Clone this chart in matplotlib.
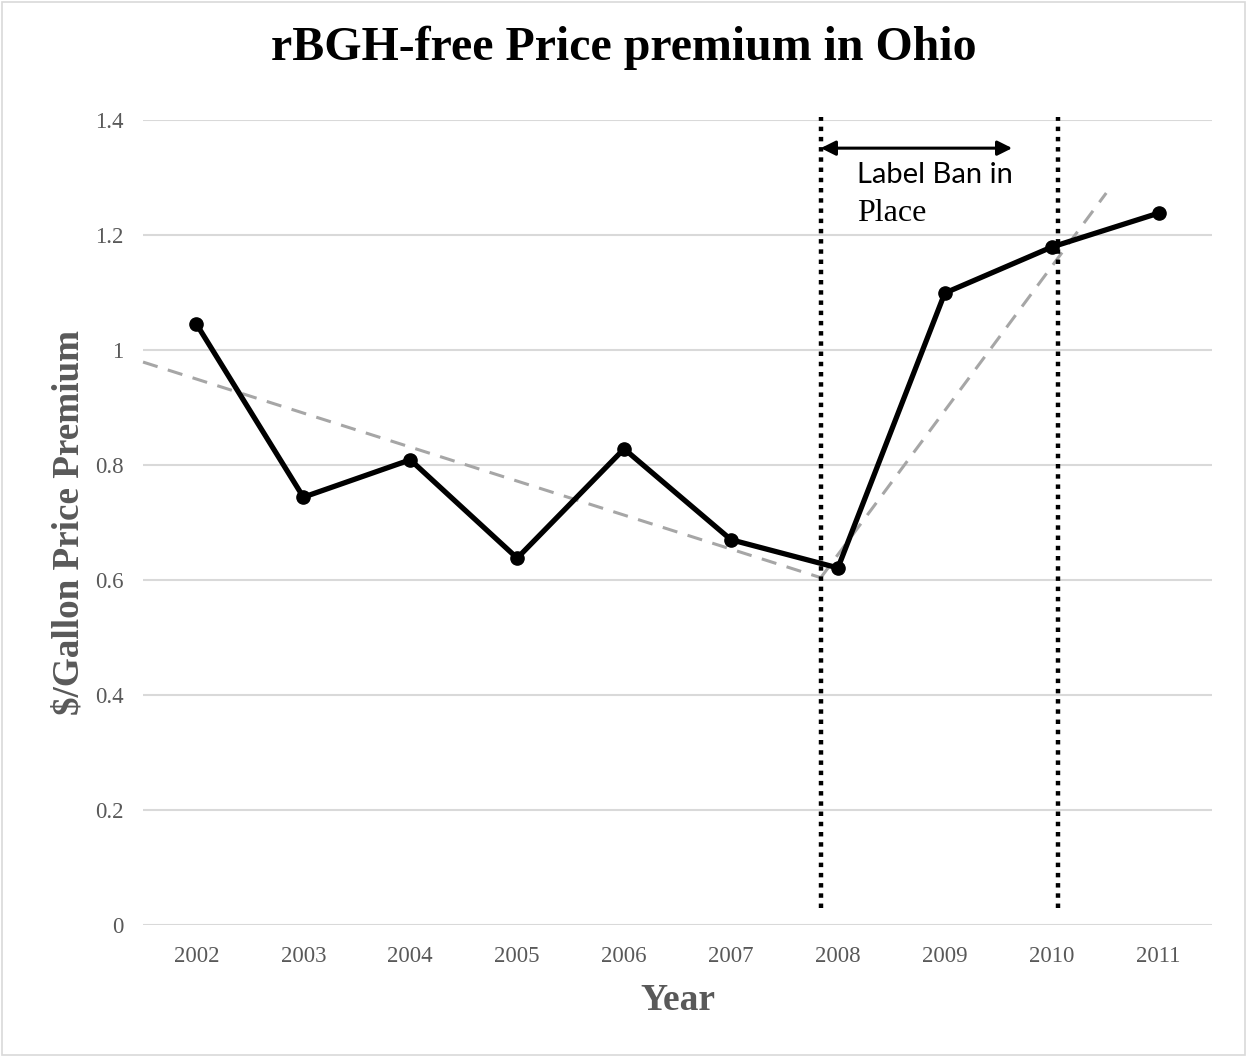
import matplotlib
matplotlib.use("Agg")
import matplotlib.pyplot as plt
from matplotlib.patches import Rectangle

years = ["2002", "2003", "2004", "2005", "2006", "2007", "2008", "2009", "2010", "2011"]
premium = [1.045, 0.744, 0.809, 0.638, 0.828, 0.670, 0.621, 1.099, 1.179, 1.238]

# trend lines (x in category index units, y in $/gallon)
trend1_x = [-0.5, 5.84]
trend1_y = [0.979, 0.604]
trend2_x = [5.84, 8.51]
trend2_y = [0.604, 1.273]

# label-ban period markers
ban_x = [5.84, 8.06]
ban_y = [0.03, 1.405]
arrow_x = [5.84, 7.63]
arrow_y = 1.351

yticks = [0, 0.2, 0.4, 0.6, 0.8, 1.0, 1.2, 1.4]
ytick_labels = ["0", "0.2", "0.4", "0.6", "0.8", "1", "1.2", "1.4"]

serif = ["Liberation Serif", "DejaVu Serif"]
gray = "#595959"

fig = plt.figure(figsize=(12.47, 10.57), dpi=100)
ax = fig.add_axes([0.1147, 0.1249, 0.8573, 0.7616])

x = list(range(len(years)))
ax.set_xlim(-0.5, 9.5)
ax.set_ylim(0, 1.4)

for yt in yticks:
    ax.axhline(yt, color="#d9d9d9", lw=1.5, zorder=1)

ax.plot(trend1_x, trend1_y, color="#a6a6a6", lw=2.2, ls=(0, (5, 3.5)), zorder=2, clip_on=False)
ax.plot(trend2_x, trend2_y, color="#a6a6a6", lw=2.2, ls=(0, (5, 3.5)), zorder=2, clip_on=False)

ax.plot(x, premium, color="black", lw=3.8, marker="o", ms=9.5, zorder=4)

for bx in ban_x:
    ax.plot([bx, bx], ban_y, color="black", lw=3.2, ls=(0, (1, 1.3)), zorder=3, clip_on=False)

ax.annotate("", xy=(arrow_x[0], arrow_y), xytext=(arrow_x[1], arrow_y),
            arrowprops=dict(arrowstyle="<|-|>", color="black", lw=2.2,
                            mutation_scale=22, shrinkA=0, shrinkB=0), zorder=5)

ax.text(6.18, 1.304, "Label Ban in", fontsize=21, family=["Lato", "DejaVu Sans"],
        ha="left", va="center", color="black")
ax.text(6.18, 1.237, "Place", fontsize=23, family=serif,
        ha="left", va="center", color="black")

ax.set_xticks(x)
ax.set_xticklabels(years, family=serif, fontsize=16.5, color=gray)
ax.set_yticks(yticks)
ax.set_yticklabels(ytick_labels, family=serif, fontsize=16.5, color=gray)
ax.tick_params(axis="both", length=0, pad=14)
ax.tick_params(axis="x", pad=15)
for s in ax.spines.values():
    s.set_visible(False)

ax.set_xlabel("Year", family=serif, fontsize=27, fontweight="bold", color=gray, labelpad=12)
ax.set_ylabel("$/Gallon Price Premium", family=serif, fontsize=26.7, fontweight="bold", color=gray, labelpad=6)

fig.text(0.5, 1 - 48 / 1057, "rBGH-free Price premium in Ohio", family=serif, fontsize=34.5,
         fontweight="bold", ha="center", va="center", color="black")

fig.patches.append(Rectangle((0.0015, 0.0015), 0.997, 0.997, transform=fig.transFigure,
                             fill=False, edgecolor="#d9d9d9", lw=1.2))

fig.savefig("out.png", dpi=100)
